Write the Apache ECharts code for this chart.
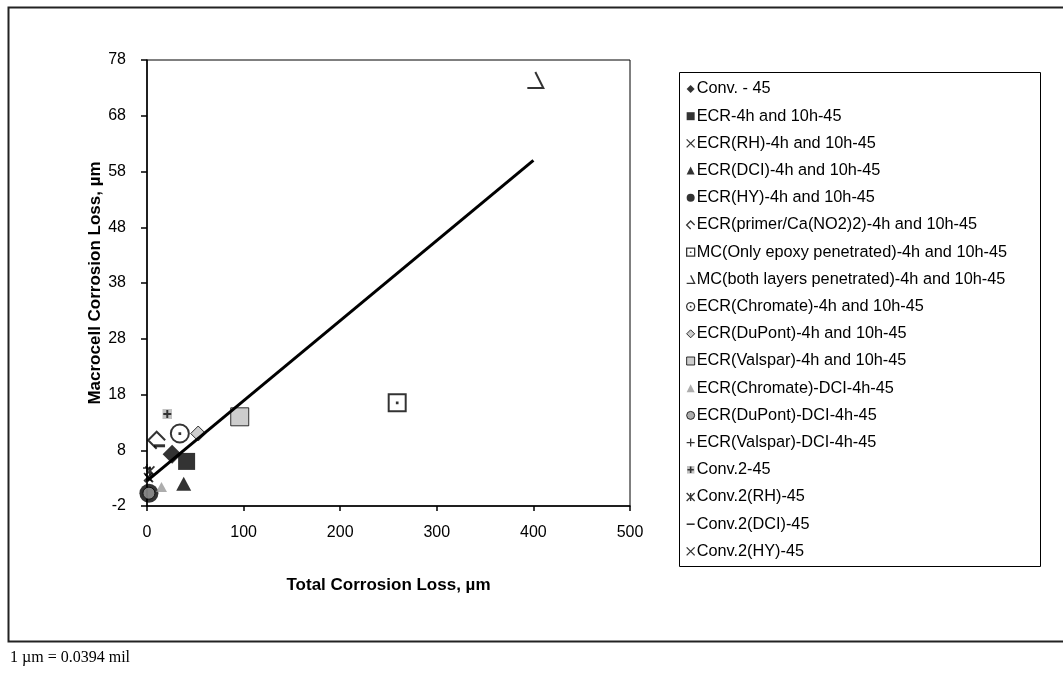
<!DOCTYPE html>
<html><head><meta charset="utf-8">
<script src="https://cdn.jsdelivr.net/npm/echarts@6/dist/echarts.min.js"></script>
<style>html,body{margin:0;padding:0;background:#fff}#c{width:1063px;height:675px}</style>
</head><body><div id="c"></div>
<script>
const seriesNames = [
  'Conv. - 45',
  'ECR-4h and 10h-45',
  'ECR(RH)-4h and 10h-45',
  'ECR(DCI)-4h and 10h-45',
  'ECR(HY)-4h and 10h-45',
  'ECR(primer/Ca(NO2)2)-4h and 10h-45',
  'MC(Only epoxy penetrated)-4h and 10h-45',
  'MC(both layers penetrated)-4h and 10h-45',
  'ECR(Chromate)-4h and 10h-45',
  'ECR(DuPont)-4h and 10h-45',
  'ECR(Valspar)-4h and 10h-45',
  'ECR(Chromate)-DCI-4h-45',
  'ECR(DuPont)-DCI-4h-45',
  'ECR(Valspar)-DCI-4h-45',
  'Conv.2-45',
  'Conv.2(RH)-45',
  'Conv.2(DCI)-45',
  'Conv.2(HY)-45'
];
const totalLoss = [26, 41, 1, 38, 2, 10, 259, 402, 34, 53, 96, 15, 2, 0, 21, 3, 13, 2];
const macroLoss = [7.3, 6.0, 3.2, 2.0, 0.3, 9.8, 16.5, 74.4, 11.0, 11.0, 14.0, 1.4, 0.3, 4.8, 14.5, 4.3, 8.8, 3.0];
const trendX = [0, 400];
const trendY = [2.5, 60];
const xTicks = {min: 0, max: 500, interval: 100};
const yTicks = {min: -2, max: 78, interval: 10};

const FONT = '"Liberation Sans", Arial, sans-serif';
const svgImg = s => 'image://data:image/svg+xml;charset=utf-8,' + encodeURIComponent(s);
const conv2Icon = svgImg("<svg xmlns='http://www.w3.org/2000/svg' width='20' height='20'><rect width='20' height='20' fill='#b4b4b4'/><path d='M10,2V18M2,10H18' stroke='#000' stroke-width='4'/></svg>");

const stroke = (w) => ({color: 'rgba(0,0,0,0)', borderColor: '#000', borderWidth: w});
const styles = [
  {symbol: 'diamond', size: [19, 19], item: {color: '#000'}},
  {symbol: 'rect', size: [17, 17], item: {color: '#000'}},
  {symbol: 'path://M0,0L10,10M10,0L0,10', size: [8, 8], item: stroke(1.5)},
  {symbol: 'triangle', size: [15, 14], item: {color: '#000'}},
  {symbol: 'circle', size: [19, 19], item: {color: '#000'}},
  {symbol: 'path://M20,10L10,0L0,10L10,20', size: [17, 17], item: stroke(2)},
  {symbol: 'path://M0,0H20V20H0ZM9.6,9.6H10.4V10.4H9.6Z', size: [17, 17], item: {color: '#fff', borderColor: '#000', borderWidth: 2}},
  {symbol: 'path://M0,20H20L10,0', size: [16, 16], item: stroke(2)},
  {symbol: 'path://M0,10A10,10 0 1,1 20,10A10,10 0 1,1 0,10ZM9.6,9.6H10.4V10.4H9.6Z', size: [18, 18], item: {color: '#fff', borderColor: '#000', borderWidth: 2}},
  {symbol: 'diamond', size: [15, 15], item: {color: '#c0c0c0', borderColor: '#000', borderWidth: 1}},
  {symbol: 'rect', size: [18, 18], item: {color: '#c0c0c0', borderColor: '#000', borderWidth: 1}},
  {symbol: 'triangle', size: [11, 10], item: {color: '#999'}},
  {symbol: 'circle', size: [12, 12], item: {color: '#999', borderColor: '#000', borderWidth: 1}},
  {symbol: 'path://M5,0V10M0,5H10', size: [8, 8], item: stroke(1.5)},
  {symbol: conv2Icon, size: [10, 10], item: {color: '#000'}},
  {symbol: 'path://M0,0L10,10M10,0L0,10M5,0V10', size: [9, 9], item: stroke(1.8)},
  {symbol: 'path://M0,0H20V4H0Z', size: [11, 3], item: {color: '#000'}},
  {symbol: 'path://M0,0L10,10M10,0L0,10', size: [8, 8], item: stroke(2)}
];

const series = seriesNames.map((n, i) => ({
  name: n,
  type: 'scatter',
  data: [[totalLoss[i], macroLoss[i]]],
  symbol: styles[i].symbol,
  symbolSize: styles[i].size,
  itemStyle: styles[i].item,
  z: 3,
  emphasis: {disabled: true}
}));
series.push({
  name: 'trend',
  type: 'line',
  data: trendX.map((x, i) => [x, trendY[i]]),
  showSymbol: false,
  symbol: 'none',
  lineStyle: {color: '#000', width: 3},
  z: 5,
  silent: true
});

const legendData = seriesNames.map((n, i) => {
  const it = Object.assign({}, styles[i].item);
  if (it.borderWidth) it.borderWidth = Math.min(it.borderWidth, 1.3);
  return {name: n, icon: styles[i].symbol, itemStyle: it};
});

const chart = echarts.init(document.getElementById('c'), null, {renderer: 'canvas'});
chart.setOption({
  animation: false,
  backgroundColor: '#fff',
  textStyle: {fontFamily: FONT},
  grid: {left: 147, right: 433, top: 60, bottom: 169, show: true, borderColor: '#000', borderWidth: 1, containLabel: false},
  xAxis: {
    type: 'value', min: xTicks.min, max: xTicks.max, interval: xTicks.interval,
    name: 'Total Corrosion Loss, µm', nameLocation: 'middle', nameGap: 71,
    nameTextStyle: {fontFamily: FONT, fontWeight: 'bold', fontSize: 17, color: '#000'},
    axisLine: {show: true, onZero: false, lineStyle: {color: '#000', width: 1.5}},
    axisTick: {show: true, length: 5, lineStyle: {color: '#000', width: 1.5}},
    axisLabel: {fontFamily: FONT, fontSize: 16, color: '#000', margin: 19},
    splitLine: {show: false}
  },
  yAxis: {
    type: 'value', min: yTicks.min, max: yTicks.max, interval: yTicks.interval,
    name: 'Macrocell Corrosion Loss, µm', nameLocation: 'middle', nameGap: 42,
    nameTextStyle: {fontFamily: FONT, fontWeight: 'bold', fontSize: 17, color: '#000'},
    axisLine: {show: true, onZero: false, lineStyle: {color: '#000', width: 1.5}},
    axisTick: {show: true, length: 6, lineStyle: {color: '#000', width: 1.5}},
    axisLabel: {fontFamily: FONT, fontSize: 16, color: '#000', margin: 21},
    splitLine: {show: false}
  },
  legend: {
    orient: 'vertical', left: 681, top: 75,
    itemWidth: 8, itemHeight: 8, itemGap: 9.2,
    selectedMode: false,
    textStyle: {fontFamily: FONT, fontSize: 16.3, color: '#000', lineHeight: 18, padding: [0, 0, 0, -3]},
    data: legendData
  },
  graphic: [
    {type: 'rect', z: -10, shape: {x: 8.5, y: 7.5, width: 1080, height: 634}, style: {fill: 'none', stroke: '#222', lineWidth: 2}},
    {type: 'rect', z: 1, shape: {x: 679.5, y: 72.5, width: 361, height: 494}, style: {fill: '#fff', stroke: '#000', lineWidth: 1}},
    {type: 'text', left: 10, top: 650, style: {text: '1 µm = 0.0394 mil', font: '16px "Liberation Serif", "Times New Roman", serif', fill: '#000'}}
  ],
  series: series
});
</script>
</body></html>
